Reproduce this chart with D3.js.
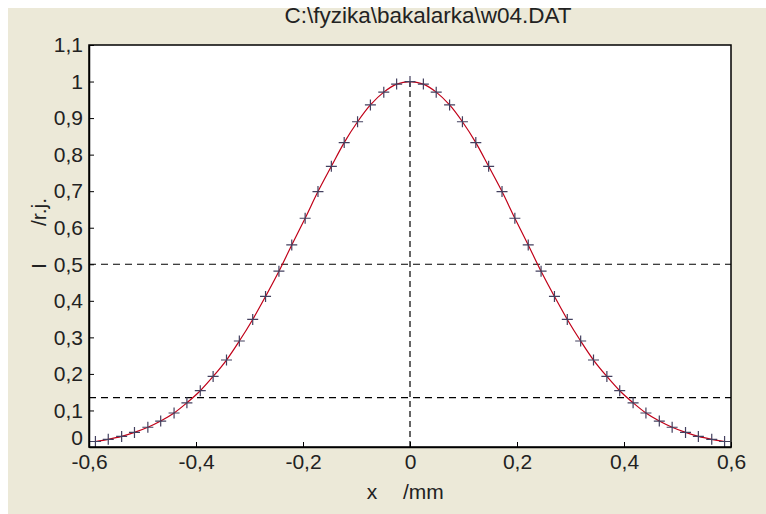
<!DOCTYPE html>
<html>
<head>
<meta charset="utf-8">
<script src="https://cdn.jsdelivr.net/npm/d3@7"></script>
<style>
  body { margin: 0; background: #fff; }
  svg text { font-family: "Liberation Sans", Arial, sans-serif; fill: #222; }
  .axis path { stroke: #000; stroke-width: 1.5; }
  .axis line { stroke: #000; stroke-width: 1; }
</style>
</head>
<body>
<div id="chart"></div>
<script>
// measured points (x in mm, relative intensity)
var xValues = [-0.588, -0.564, -0.539, -0.515, -0.490, -0.466, -0.441, -0.417, -0.392, -0.368,
  -0.343, -0.319, -0.294, -0.270, -0.245, -0.221, -0.196, -0.172, -0.147, -0.123,
  -0.098, -0.074, -0.049, -0.025, 0, 0.025, 0.049, 0.074, 0.098, 0.123,
  0.147, 0.172, 0.196, 0.221, 0.245, 0.270, 0.294, 0.319, 0.343, 0.368,
  0.392, 0.417, 0.441, 0.466, 0.490, 0.515, 0.539, 0.564, 0.588];
var iValues = [0.015, 0.021, 0.029, 0.040, 0.054, 0.071, 0.093, 0.121, 0.154, 0.193,
  0.238, 0.290, 0.349, 0.412, 0.481, 0.553, 0.626, 0.699, 0.768, 0.833,
  0.890, 0.936, 0.971, 0.993, 1.000, 0.993, 0.971, 0.936, 0.890, 0.833,
  0.768, 0.699, 0.626, 0.553, 0.481, 0.412, 0.349, 0.290, 0.238, 0.193,
  0.154, 0.121, 0.093, 0.071, 0.054, 0.040, 0.029, 0.021, 0.015];

var xTicks = [-0.6, -0.4, -0.2, 0, 0.2, 0.4, 0.6];
var yTicks = [0, 0.1, 0.2, 0.3, 0.4, 0.5, 0.6, 0.7, 0.8, 0.9, 1, 1.1];
var levelValues = [0.5, 0.135];   // half max and 1/e^2
var titleText = "C:\\fyzika\\bakalarka\\w04.DAT";

var W = 766, H = 514;
var plot = { left: 89, right: 731, top: 45, bottom: 447 };

var svg = d3.select("#chart").append("svg")
  .attr("width", W)
  .attr("height", H);

// figure background
svg.append("rect")
  .attr("x", 8).attr("y", 8)
  .attr("width", W - 8).attr("height", H - 8)
  .attr("fill", "#ece9d8");

svg.append("rect")
  .attr("x", plot.left).attr("y", plot.top)
  .attr("width", plot.right - plot.left)
  .attr("height", plot.bottom - plot.top)
  .attr("fill", "#fff");

var x = d3.scaleLinear().domain([-0.6, 0.6]).range([plot.left, plot.right]);
var y = d3.scaleLinear().domain([0, 1.1]).range([plot.bottom, plot.top]);

var fmt = function(d) { return String(+d.toFixed(1)).replace(".", ","); };

// reference lines
svg.selectAll(".level")
  .data(levelValues)
  .enter()
  .append("line")
    .attr("class", "level")
    .attr("x1", x(-0.6)).attr("x2", x(0.6))
    .attr("y1", d => y(d)).attr("y2", d => y(d))
    .attr("stroke", "#000")
    .attr("stroke-width", 1.2)
    .style("stroke-dasharray", "7,5");

svg.append("line")
  .attr("x1", x(0)).attr("x2", x(0))
  .attr("y1", y(0)).attr("y2", y(1))
  .attr("stroke", "#000")
  .attr("stroke-width", 1.2)
  .style("stroke-dasharray", "6,4");

var pts = xValues.map((v, i) => ({ x: v, y: iValues[i] }));

var line = d3.line()
  .x(d => x(d.x))
  .y(d => y(d.y))
  .curve(d3.curveCatmullRom);

svg.append("path")
  .datum(pts)
  .attr("d", line)
  .attr("fill", "none")
  .attr("stroke", "#c00018")
  .attr("stroke-width", 1.2);

var m = 5.5;
svg.selectAll(".mark")
  .data(pts)
  .enter()
  .append("path")
    .attr("class", "mark")
    .attr("d", d => {
      var px = x(d.x), py = y(d.y);
      return `M${px - m},${py}H${px + m}M${px},${py - m}V${py + m}`;
    })
    .attr("stroke", "#43405f")
    .attr("stroke-width", 1.2)
    .attr("fill", "none");

// axes, ticks pointing inside
var xAxis = d3.axisBottom(x).tickValues(xTicks).tickFormat(fmt)
  .tickSizeInner(-5).tickSizeOuter(0).tickPadding(7);
var yAxis = d3.axisLeft(y).tickValues(yTicks).tickFormat(fmt)
  .tickSizeInner(-5).tickSizeOuter(0).tickPadding(6);

svg.append("g")
  .attr("class", "axis")
  .attr("transform", `translate(0,${plot.bottom})`)
  .call(xAxis)
  .selectAll("text")
    .attr("font-size", 21);

var gy = svg.append("g")
  .attr("class", "axis")
  .attr("transform", `translate(${plot.left},0)`)
  .call(yAxis);
gy.selectAll("text")
  .attr("font-size", 21);
// the zero label sits a little higher, just above the x labels
gy.selectAll(".tick").filter(d => d === 0).select("text").attr("dy", "-0.12em");

svg.selectAll(".axis text").style("font-family", "'Liberation Sans', Arial, sans-serif").attr("fill", "#222");

// frame
svg.append("rect")
  .attr("x", plot.left).attr("y", plot.top)
  .attr("width", plot.right - plot.left)
  .attr("height", plot.bottom - plot.top)
  .attr("fill", "none")
  .attr("stroke", "#000")
  .attr("stroke-width", 1.5);

svg.append("text")
  .attr("x", 428).attr("y", 23)
  .attr("text-anchor", "middle")
  .attr("font-size", 22.5)
  .text(titleText);

svg.append("text")
  .attr("x", 372).attr("y", 499)
  .attr("text-anchor", "middle")
  .attr("font-size", 21)
  .text("x");
svg.append("text")
  .attr("x", 403).attr("y", 499)
  .attr("font-size", 21)
  .text("/mm");

svg.append("text")
  .attr("transform", "translate(46,266) rotate(-90)")
  .attr("text-anchor", "middle")
  .attr("font-size", 21)
  .text("I");
svg.append("text")
  .attr("transform", "translate(46,212) rotate(-90)")
  .attr("text-anchor", "middle")
  .attr("font-size", 21)
  .text("/r.j.");
</script>
</body>
</html>
